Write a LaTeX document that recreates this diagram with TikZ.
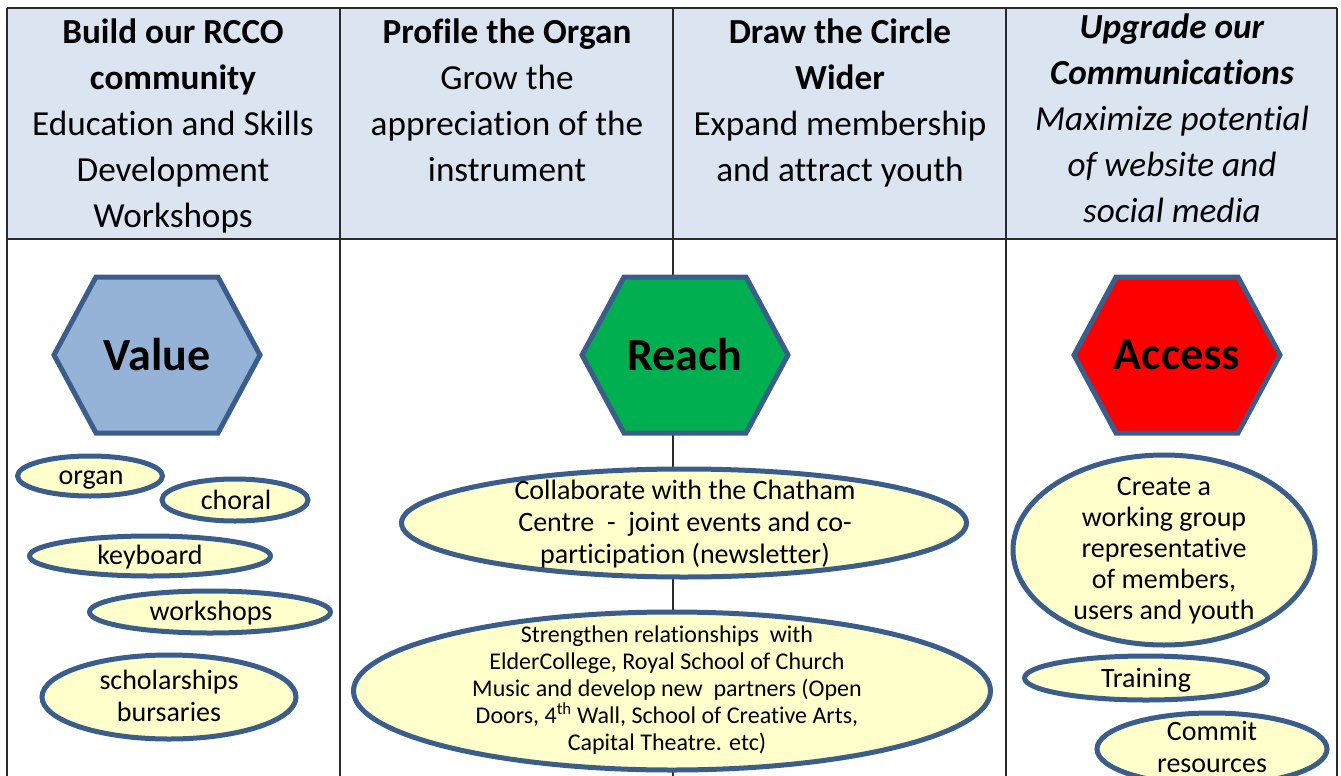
\documentclass[tikz,border=0pt]{standalone}
\usepackage{fontspec}
\setmainfont{Carlito}[Ligatures=NoCommon]
\usetikzlibrary{shapes.geometric}
\definecolor{hdrfill}{HTML}{DBE5F1}
\definecolor{edge}{HTML}{3B5D8C}
\definecolor{ovalfill}{HTML}{FFFFCC}
\definecolor{valfill}{HTML}{95B3D7}
\definecolor{reachfill}{HTML}{00B050}
\definecolor{accfill}{HTML}{FF0000}
\definecolor{gridline}{HTML}{2A2A2A}
\tikzset{
  grid line/.style={draw=gridline, line width=1.8pt},
  hdr/.style={anchor=north, inner sep=0pt, align=center, font=\fontsize{35.2}{46}\selectfont},
  hexa/.style={draw=edge, line width=5pt, line join=miter},
  hexlabel/.style={inner sep=0pt, font=\fontsize{46}{50}\selectfont\bfseries},
  oval/.style={ellipse, draw=edge, fill=ovalfill, line width=5pt, inner sep=0pt},
  ovaltext/.style={inner sep=0pt, align=center, font=\fontsize{28}{32}\selectfont},
  smalltext/.style={inner sep=0pt, align=center, font=\fontsize{24}{27}\selectfont},
}
\begin{document}
\begin{tikzpicture}[x=1pt,y=-1pt]
\useasboundingbox (0,0) rectangle (1341,776);
% header background
\fill[hdrfill] (7,8) rectangle (1337,239);
% grid
\coordinate (tl) at (7,8);
\coordinate (tr) at (1337,8);
\coordinate (hl) at (7,239);
\coordinate (hr) at (1337,239);
\draw[grid line] (tl) -- (tr);
\draw[grid line] (hl) -- (hr);
\foreach \x in {7,340,673,1006,1337}{
  \draw[grid line] (\x,8) -- (\x,776);
}
% header texts
\node[hdr] (h1) at (173,19) {\textbf{Build our RCCO}\\\textbf{community}\\Education and Skills\\Development\\Workshops};
\node[hdr] (h2) at (507,19) {\textbf{Profile the Organ}\\Grow the\\appreciation of the\\instrument};
\node[hdr] (h3) at (840,19) {\textbf{Draw the Circle}\\\textbf{Wider}\\Expand membership\\and attract youth};
\node[hdr] (h4) at (1172,14) {\textbf{\itshape Upgrade our}\\\textbf{\itshape Communications}\\\textit{Maximize potential}\\\textit{of website and}\\\textit{social media}};
% hexagons
\foreach \cx/\col/\nm/\txt in {157/valfill/value/Value, 685/reachfill/reach/Reach, 1177/accfill/access/Access}{
  \draw[hexa, fill=\col] (\cx-103,355) -- (\cx-61,277) -- (\cx+61,277) -- (\cx+103,355) -- (\cx+61,433) -- (\cx-61,433) -- cycle;
  \node[hexlabel] (\nm) at (\cx,355) {\txt};
}
% column 1 ovals
\node[oval, minimum width=145, minimum height=40] (organ) at (90,476) {};
\node[ovaltext] at (91,480) {organ};
\node[oval, minimum width=146, minimum height=42] (choral) at (235,500) {};
\node[ovaltext] at (236,500) {choral};
\node[oval, minimum width=241, minimum height=40] (keyboard) at (150,556) {};
\node[ovaltext] at (150,557) {keyboard};
\node[oval, minimum width=241, minimum height=42] (workshops) at (210,612) {};
\node[ovaltext] at (211,613) {workshops};
\node[oval, minimum width=254, minimum height=84] (schol) at (169,697) {};
\node[ovaltext] at (169,696) {scholarships\\bursaries};
% column 2-3 ovals
\node[oval, minimum width=565, minimum height=108] (collab) at (684,523) {};
\node[ovaltext] at (685,524) {Collaborate with the Chatham\\Centre \ -\ \ joint events and co-\\participation (newsletter)};
\node[oval, minimum width=637, minimum height=158] (strength) at (672,691) {};
\node[smalltext] at (667,690) {Strengthen relationships \ with\\ElderCollege, Royal School of Church\\Music and develop new \ partners (Open\\Doors, 4\textsuperscript{th} Wall, School of Creative Arts,\\Capital Theatre. etc)};
% column 4 ovals
\node[oval, minimum width=302, minimum height=190] (create) at (1164,550) {};
\node[ovaltext, font=\fontsize{28}{31}\selectfont] at (1164,551) {Create a\\working group\\representative\\of members,\\users and youth};
\node[oval, minimum width=243, minimum height=44] (training) at (1146,678) {};
\node[ovaltext] at (1146,680) {Training};
\node[oval, minimum width=230, minimum height=72] (commit) at (1212,749) {};
\node[ovaltext] at (1212,747) {Commit\\resources};
\end{tikzpicture}
\end{document}
